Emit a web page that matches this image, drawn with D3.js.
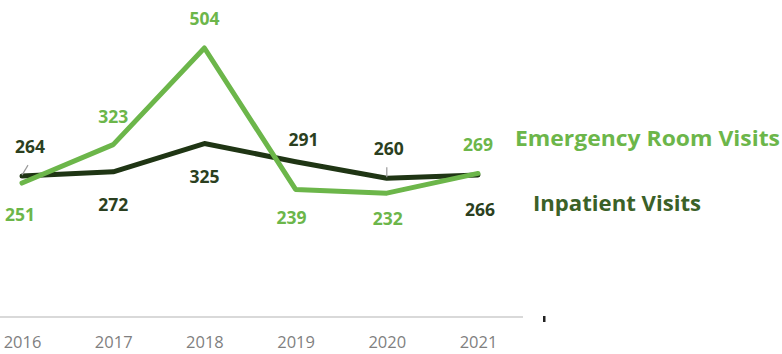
<!DOCTYPE html>
<html>
<head>
<meta charset="utf-8">
<script src="https://cdn.jsdelivr.net/npm/d3@7"></script>
<style>
  body { margin: 0; background: #fff; }
  svg { display: block; }
</style>
</head>
<body>
<svg id="chart" width="782" height="354"></svg>
<script>
var years = ['2016', '2017', '2018', '2019', '2020', '2021']
var erVisits = [251, 323, 504, 239, 232, 269]
var inpatientVisits = [264, 272, 325, 291, 260, 266]
// which side each value label sits on (-1 above, 1 below)
var erLabelSide = [1, -1, -1, 1, 1, -1]
var inpLabelSide = [-1, 1, 1, -1, -1, 1]
var seriesNames = ['Emergency Room Visits', 'Inpatient Visits']

var width = 782, height = 354
var lightGreen = '#6cb64a'
var darkLine = '#1f3514'
var darkText = '#2b3f20'

var svg = d3.select('#chart')

var x = d3.scalePoint()
  .domain(years)
  .range([22, 478])

var y = d3.scaleLinear()
  .domain([0, 504])
  .range([317, 48])

// baseline
svg.append('line')
  .attr('x1', 0)
  .attr('x2', 523)
  .attr('y1', y(0))
  .attr('y2', y(0))
  .attr('stroke', '#d9d9d9')
  .attr('stroke-width', 2)

// stray tick right of the axis
svg.append('rect')
  .attr('x', 543)
  .attr('y', y(0) - 1)
  .attr('width', 2.5)
  .attr('height', 6)
  .attr('fill', '#222')

var xAxis = svg.append('g')
  .attr('transform', 'translate(0,' + (y(0) + 15) + ')')
  .call(d3.axisBottom(x).tickSize(0).tickPadding(4))
xAxis.select('.domain').remove()
xAxis.selectAll('text')
  .attr('fill', '#7f7f7f')
  .style('font-family', '"Open Sans", sans-serif')
  .style('font-size', '16.5px')

var line = d3.line()
  .x((d, i) => x(years[i]))
  .y((d) => y(d))

svg.append('path')
  .datum(inpatientVisits)
  .attr('d', line)
  .attr('fill', 'none')
  .attr('stroke', darkLine)
  .attr('stroke-width', 5)
  .attr('stroke-linejoin', 'round')
  .attr('stroke-linecap', 'round')

svg.append('path')
  .datum(erVisits)
  .attr('d', line)
  .attr('fill', 'none')
  .attr('stroke', lightGreen)
  .attr('stroke-width', 5)
  .attr('stroke-linejoin', 'round')
  .attr('stroke-linecap', 'round')

// leader lines for the two crowded labels
var leaders = [0, 4]
svg.selectAll('.leader')
  .data(leaders)
  .enter()
  .append('line')
  .attr('class', 'leader')
  .attr('x1', (i) => x(years[i]) + (i == 0 ? 6 : 0))
  .attr('y1', (i) => y(inpatientVisits[i]) - 11)
  .attr('x2', (i) => x(years[i]))
  .attr('y2', (i) => y(inpatientVisits[i]) - 1)
  .attr('stroke', '#9a9a9a')
  .attr('stroke-width', 1.2)

function drawLabels(values, sides, color, offsets) {
  svg.append('g')
    .selectAll('text')
    .data(values)
    .enter()
    .append('text')
    .attr('x', (d, i) => x(years[i]) + offsets[i][0])
    .attr('y', (d, i) => y(d) + sides[i] * offsets[i][1])
    .attr('dy', '0.35em')
    .attr('text-anchor', 'middle')
    .attr('fill', color)
    .style('font-family', '"Open Sans", sans-serif')
    .style('font-weight', 'bold')
    .style('font-size', '17.5px')
    .text((d) => d)
}

drawLabels(erVisits, erLabelSide, lightGreen,
  [[-2, 32], [0, 28], [0, 29], [-4, 28], [1, 26], [0, 29]])
drawLabels(inpatientVisits, inpLabelSide, darkText,
  [[8, 29], [0, 33], [0, 33], [8, 22], [2, 29], [2, 35]])

// series names on the right
svg.append('text')
  .attr('x', 515)
  .attr('y', 139)
  .attr('dy', '0.35em')
  .attr('fill', lightGreen)
  .style('font-family', '"Open Sans", sans-serif')
  .style('font-weight', 'bold')
  .style('font-size', '20.5px')
  .attr('textLength', 265)
  .attr('lengthAdjust', 'spacingAndGlyphs')
  .text(seriesNames[0])

svg.append('text')
  .attr('x', 533)
  .attr('y', 204)
  .attr('dy', '0.35em')
  .attr('fill', '#3b6128')
  .style('font-family', '"Open Sans", sans-serif')
  .style('font-weight', 'bold')
  .style('font-size', '20.5px')
  .attr('textLength', 168)
  .attr('lengthAdjust', 'spacingAndGlyphs')
  .text(seriesNames[1])
</script>
</body>
</html>
